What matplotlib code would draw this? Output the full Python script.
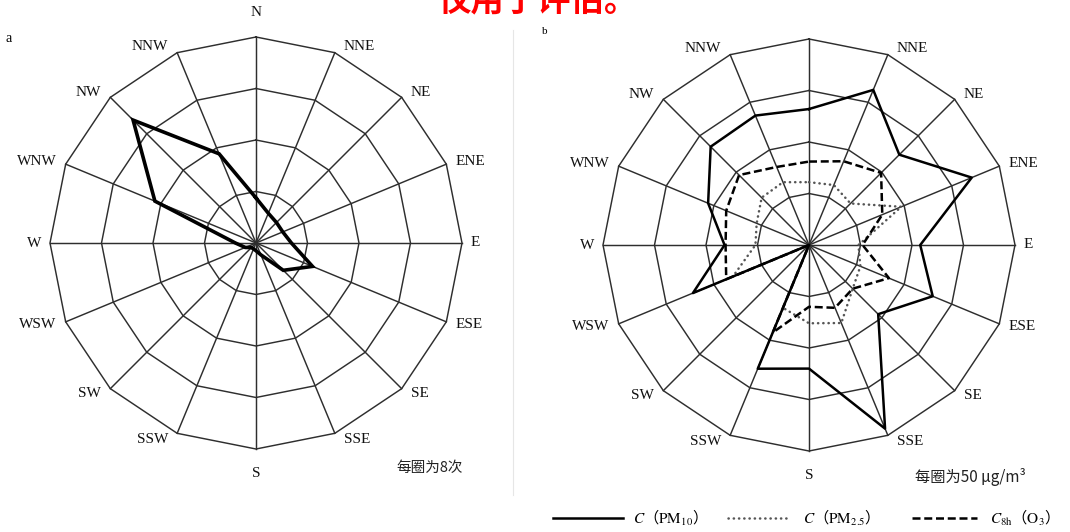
import numpy as np
import matplotlib.pyplot as plt

plt.rcParams['mathtext.fontset'] = 'stix'

# 16 wind directions, clockwise from north
dirs = ['N', 'NNE', 'NE', 'ENE', 'E', 'ESE', 'SE', 'SSE',
        'S', 'SSW', 'SW', 'WSW', 'W', 'WNW', 'NW', 'NNW']

# panel a: wind frequency (times), one ring = 8
freq = [7, 5, 4.5, 4.5, 5.5, 9.5, 6, 2, 1.2, 1, 1, 1.8, 3.2, 17, 27, 15]
rings_a = [8, 16, 24, 32]

# panel b: concentrations (ug/m3), one ring = 50
pm10 = [132, 163, 124, 171, 108, 130, 95, 193, 120, 130, 0, 122, 82, 106, 135, 136]
pm25 = [61, 63, 57, 97, 48, 54, 60, 82, 76, 66, 0, 80, 52, 55, 65, 66]
o3 = [81, 88, 99, 77, 52, 84, 60, 66, 60, 92, 0, 87, 81, 87, 96, 82]
rings_b = [50, 100, 150, 200]

theta = np.deg2rad(np.arange(16) * 22.5)

W, H = 1070, 532
fig = plt.figure(figsize=(W / 100, H / 100), dpi=100)

serif = 'Liberation Serif'
cjk = ['Noto Sans CJK SC', 'DejaVu Sans']
gridc = '#2e2e2e'


def xy(vals):
    v = np.asarray(vals, dtype=float)
    x = v * np.sin(theta)
    y = v * np.cos(theta)
    return np.append(x, x[0]), np.append(y, y[0])


def make_panel(cx, cy, rings, skip=()):
    # cx, cy: centre in pixels (from top-left), outer ring about 206 px
    half = 250
    rmax = rings[-1]
    lim = rmax * half / 206.0
    ax = fig.add_axes([(cx - half) / W, (H - cy - half) / H, 2 * half / W, 2 * half / H])
    ax.set_xlim(-lim, lim)
    ax.set_ylim(-lim, lim)
    ax.axis('off')
    for r in rings:
        gx, gy = xy([r] * 16)
        ax.plot(gx, gy, color=gridc, lw=1.05, zorder=1)
    for t in theta:
        ax.plot([0, rmax * np.sin(t)], [0, rmax * np.cos(t)], color=gridc, lw=1.05, zorder=1)
    for t, name in zip(theta, dirs):
        if name in skip:
            continue
        s, c = np.sin(t), np.cos(t)
        px, py = rmax * s, rmax * c
        if abs(s) < 0.1:
            ha = 'center'
            dx = 0
            if c > 0:
                va, dy = 'bottom', 18
            else:
                va, dy = 'top', -18
        else:
            ha = 'left' if s > 0 else 'right'
            dx = 9 if s > 0 else -9
            va, dy = 'center', 7 * c
        ax.annotate(name, xy=(px, py), xytext=(dx, dy), textcoords='offset pixels',
                    ha=ha, va=va, fontsize=11, family=serif, color='#111111')
    return ax


ax_a = make_panel(256, 243, rings_a)
fx, fy = xy(freq)
ax_a.plot(fx, fy, color='black', lw=2.6, solid_joinstyle='miter', zorder=3)

# the N label of panel b is hidden in the original
ax_b = make_panel(809, 245, rings_b, skip=('N',))
x1, y1 = xy(pm10)
ax_b.plot(x1, y1, color='black', lw=1.8, zorder=4)
x2, y2 = xy(pm25)
ax_b.plot(x2, y2, color='#555555', lw=1.8, linestyle=(0, (0.1, 2.0)),
          dash_capstyle='round', zorder=3)
x3, y3 = xy(o3)
ax_b.plot(x3, y3, color='black', lw=1.8, linestyle=(0, (3.2, 1.5)), zorder=3)

# overlay in pixel coordinates for notes, legend and the watermark
ov = fig.add_axes([0, 0, 1, 1], zorder=-1)
ov.set_xlim(0, W)
ov.set_ylim(H, 0)
ov.axis('off')

ov.plot([513, 513], [30, 495], color='#e6e6e6', lw=0.8)

ov.text(9, 38, 'a', fontsize=10, family=serif, ha='center', va='center')
ov.text(545, 32, 'b', fontsize=8, family=serif, ha='center', va='center')

ov.text(430, 468, '每圈为8次', fontsize=10.5, family=cjk, ha='center', va='center', color='#222222')
ov.text(970, 477, '每圈为50 μg/m³', fontsize=11, family=cjk, ha='center', va='center',
        color='#222222')

# watermark, cut off at the top edge as in the original
ov.text(538, 11, '仅用于评估。', fontsize=24, family=cjk, fontweight='bold',
        color='#ff0000', ha='center', va='baseline')

# legend
leg_y = 518
ov.plot([553, 623], [leg_y, leg_y], color='black', lw=1.8)
ov.text(633, leg_y, r'$C$（$\mathrm{PM}_{10}$）', fontsize=11, family=cjk, ha='left', va='center')
ov.plot([728, 790], [leg_y, leg_y], color='#555555', lw=1.8, linestyle=(0, (0.1, 2.0)),
        dash_capstyle='round')
ov.text(803, leg_y, r'$C$（$\mathrm{PM}_{2.5}$）', fontsize=11, family=cjk, ha='left', va='center')
ov.plot([912, 977], [leg_y, leg_y], color='black', lw=1.8, linestyle=(0, (3.2, 1.5)))
ov.text(990, leg_y, r'$C_{\mathrm{8h}}$（$\mathrm{O}_{3}$）', fontsize=11, family=cjk,
        ha='left', va='center')

fig.savefig('out.png', dpi=100)
